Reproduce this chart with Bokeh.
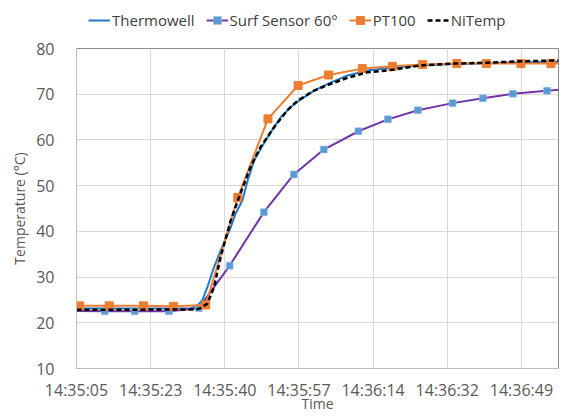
from bokeh.plotting import figure
from bokeh.models import Range1d, Legend, LegendItem, FixedTicker
from bokeh.layouts import column
from bokeh.embed import file_html
from bokeh.resources import INLINE

# time in seconds after 14:35:05
tick_labels = ["14:35:05", "14:35:23", "14:35:40", "14:35:57", "14:36:14", "14:36:32", "14:36:49"]
tick_step = 104 / 6

series_names = ["Thermowell", "Surf Sensor 60°", "PT100", "NiTemp"]

t_thermo = [0, 26.7, 28.3, 29.4, 30.6, 32.15, 33.7, 36.05, 37.2, 38.8, 40.0, 41.5, 43.5, 45.4,
            47.8, 50.1, 52.0, 55.55, 59.5, 63.4, 68.05, 73.5, 80.5, 88.2, 96.2, 103.9, 112.7]
v_thermo = [23.1, 23.2, 23.8, 24.9, 27.8, 32.2, 35.8, 40.9, 43.9, 46.8, 51.1, 55.5, 58.8, 61.7,
            65.0, 67.2, 68.6, 70.8, 72.6, 74.1, 75.2, 75.8, 76.3, 76.6, 76.8, 77.0, 77.1]

t_surf = [-0.8, 6.6, 13.6, 21.6, 28.6, 35.8, 43.8, 50.8, 57.8, 65.9, 72.8, 79.8, 87.9, 95.0, 102.0, 110.0, 117.3]
v_surf = [22.6, 22.5, 22.5, 22.5, 23.2, 32.5, 44.2, 52.45, 57.9, 61.9, 64.5, 66.5, 68.05, 69.1, 70.1, 70.75, 71.3]

t_pt = [0.7, 7.65, 15.67, 22.7, 30.2, 37.7, 44.75, 51.8, 58.9, 66.8, 73.85, 80.9, 88.9, 95.8, 103.9, 110.9, 118.0]
v_pt = [23.7, 23.7, 23.7, 23.6, 23.9, 47.4, 64.6, 71.9, 74.2, 75.6, 76.1, 76.5, 76.7, 76.7, 76.7, 76.7, 76.7]

t_ni = [0, 27.9, 29.0, 30.6, 32.15, 33.7, 36.05, 38.0, 40.7, 43.0, 46.2, 49.3, 51.7, 55.55, 59.5,
        63.4, 68.05, 73.5, 80.5, 88.3, 96.1, 103.9, 112.7]
v_ni = [22.85, 22.9, 23.2, 24.2, 27.8, 34.4, 42.4, 47.5, 54.1, 58.4, 62.8, 66.5, 68.6, 70.8, 72.3,
        73.6, 74.8, 75.3, 76.3, 76.7, 76.9, 77.2, 77.4]

FONT = "Open Sans"
C_THERMO, C_SURF_L, C_SURF_M, C_PT, C_NI = "#1F7AC9", "#7434A8", "#5B9BD5", "#ED7D31", "black"


def draw(fig, data):
    (tt, vt), (ts, vs), (tp, vp), (tn, vn) = data
    r1 = fig.line(tt, vt, line_color=C_THERMO, line_width=2)
    r2 = fig.line(ts, vs, line_color=C_SURF_L, line_width=2)
    r3 = fig.scatter(ts, vs, marker="square", size=7, fill_color=C_SURF_M, line_color="#9CC3E6", line_width=0.5)
    r4 = fig.line(tp, vp, line_color=C_PT, line_width=2)
    r5 = fig.scatter(tp, vp, marker="square", size=8, fill_color=C_PT, line_color=C_PT)
    r6 = fig.line(tn, vn, line_color=C_NI, line_width=2.5, line_dash="5 3")
    return [[r1], [r2, r3], [r4, r5], [r6]]


p = figure(width=565, height=380, output_backend="svg", toolbar_location=None,
           x_range=Range1d(0, 6.5 * tick_step), y_range=Range1d(10, 80),
           min_border_left=76, min_border_right=7, min_border_top=10, min_border_bottom=50)
draw(p, [(t_thermo, v_thermo), (t_surf, v_surf), (t_pt, v_pt), (t_ni, v_ni)])

p.xaxis.ticker = FixedTicker(ticks=[i * tick_step for i in range(len(tick_labels))])
p.xaxis.major_label_overrides = {i * tick_step: lab for i, lab in enumerate(tick_labels)}
p.yaxis.ticker = FixedTicker(ticks=list(range(10, 81, 10)))

for ax in (p.xaxis, p.yaxis):
    ax.major_tick_line_color = None
    ax.minor_tick_line_color = None
    ax.major_tick_out = 0
    ax.major_tick_in = 0
    ax.axis_line_color = "#BFBFBF"
    ax.major_label_text_font = FONT
    ax.major_label_text_font_size = "16px"
    ax.major_label_text_color = "#595959"
    ax.axis_label_text_font = FONT
    ax.axis_label_text_font_size = "14px"
    ax.axis_label_text_font_style = "normal"
    ax.axis_label_text_color = "#595959"

p.xaxis.axis_label = "Time"
p.yaxis.axis_label = "Temperature (°C)"
p.xaxis.major_label_standoff = 10
p.yaxis.major_label_standoff = 22
p.xaxis.axis_label_standoff = -10
p.yaxis.axis_label_standoff = 4

p.xgrid.grid_line_color = "#D9D9D9"
p.ygrid.grid_line_color = "#D9D9D9"
p.outline_line_color = "#8C8C8C"
p.background_fill_color = "white"
p.border_fill_color = "white"

# legend strip above the chart (its frame is aligned with the chart's frame)
lf = figure(width=565, height=38, output_backend="svg", toolbar_location=None,
            x_range=Range1d(0, 1), y_range=Range1d(0, 1),
            min_border_left=0, min_border_right=0, min_border_top=0, min_border_bottom=0)
lf.axis.visible = False
lf.grid.visible = False
lf.outline_line_color = None
off = ([-10], [-10])
groups = draw(lf, [off, off, off, off])

legend = Legend(items=[LegendItem(label=n, renderers=g) for n, g in zip(series_names, groups)],
                orientation="horizontal", location=(12, 8))
legend.label_text_font = FONT
legend.label_text_font_size = "15px"
legend.label_text_color = "#404040"
legend.glyph_width = 22
legend.glyph_height = 20
legend.label_height = 20
legend.label_standoff = 2
legend.spacing = 11
legend.padding = 0
legend.margin = 0
legend.border_line_color = None
legend.background_fill_alpha = 0
lf.add_layout(legend, "center")

open("out.html", "w").write(file_html(column(lf, p, spacing=0), INLINE))
